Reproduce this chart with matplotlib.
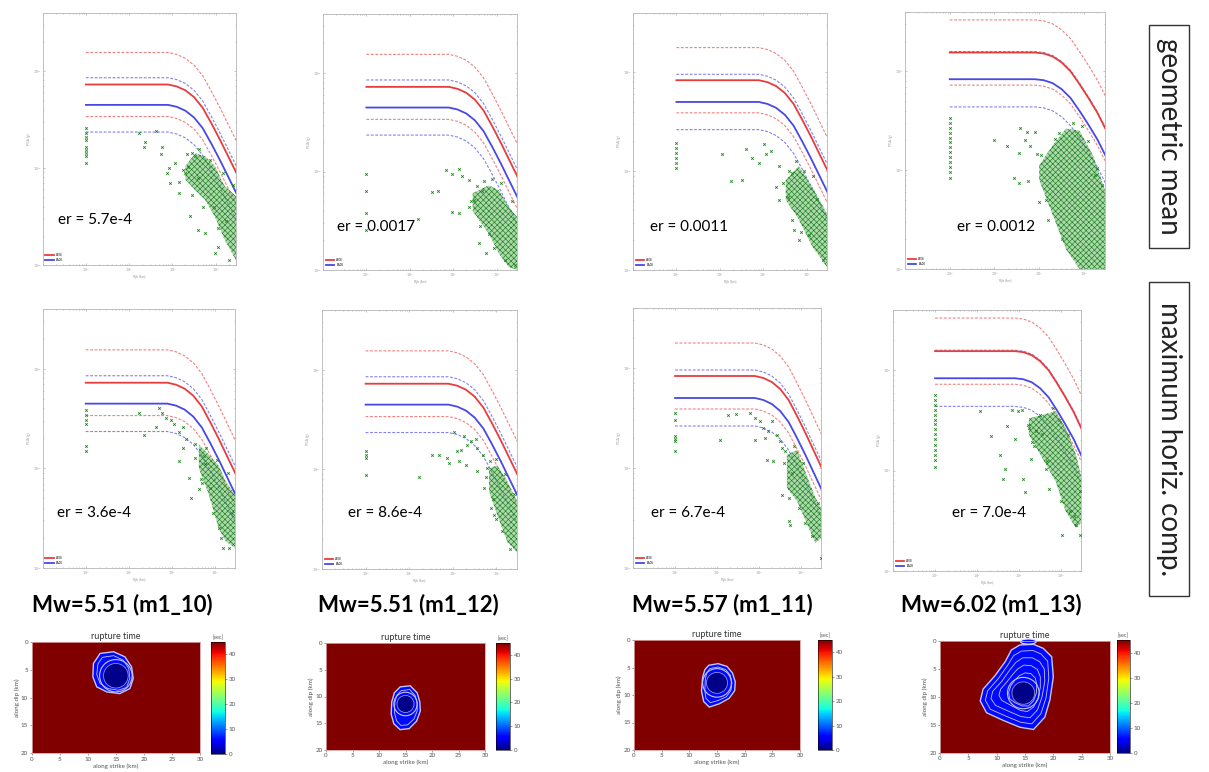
import numpy as np
import matplotlib.pyplot as plt
from matplotlib.patches import Polygon, Circle, Ellipse, Rectangle
from matplotlib.colors import Normalize
from matplotlib.cm import ScalarMappable
from matplotlib.ticker import FuncFormatter

plt.rcParams['font.family'] = ['Lato', 'DejaVu Sans']
plt.rcParams['hatch.linewidth'] = 0.45

W, H = 1209, 772

# ---- events ----
events = ['m1_10', 'm1_12', 'm1_11', 'm1_13']
magnitudes = [5.51, 5.51, 5.57, 6.02]
er_geo = ['5.7e-4', '0.0017', '0.0011', '0.0012']
er_max = ['3.6e-4', '8.6e-4', '6.7e-4', '7.0e-4']

# ---- GMPE medians (log10 PGA plateau) and +/- 1 sigma ----
red_level = [-1.14, -1.14, -1.08, -0.81]
blue_level = [-1.35, -1.35, -1.30, -1.08]
sigma_red = 0.33
sigma_blue = 0.28
# decay with distance, relative to the plateau (M5.5 events, M6 event)
curve_logr = [0.0, 1.9, 2.1, 2.3, 2.5, 2.7, 2.9, 3.1, 3.3, 3.5]
drop_m55 = [0.0, 0.0, -0.02, -0.06, -0.13, -0.24, -0.40, -0.57, -0.75, -0.93]
drop_m60 = [0.0, 0.0, -0.01, -0.04, -0.10, -0.19, -0.32, -0.46, -0.61, -0.79]
curve_drop = [drop_m55, drop_m55, drop_m55, drop_m60]

# ---- observed PGA (log10 r, log10 PGA) ----
# col: records at r = 1 km; px/py: scattered records; cx/lo/hi: envelope of the dense cloud
geo_10_col = [-1.59, -1.64, -1.68, -1.71, -1.78, -1.81, -1.85, -1.88, -1.95]
geo_10_px = [1.23, 1.61, 1.37, 1.34, 1.73, 1.76, 1.88, 1.92, 2.07, 2.15, 2.30, 2.37, 2.34, 2.45, 2.53, 2.41, 2.60, 2.76, 2.98, 3.06, 2.15, 1.95,
             2.25, 2.45, 2.62, 2.70, 2.88, 3.05, 3.18, 3.30, 3.40, 2.95, 3.25, 2.58]
geo_10_py = [-1.64, -1.62, -1.73, -1.78, -1.86, -1.78, -2.05, -2.00, -1.95, -2.14, -2.05, -1.99, -1.86, -1.85, -1.88, -2.50, -2.64, -2.67, -2.88, -2.81, -2.26, -2.16,
             -2.02, -2.28, -1.80, -2.40, -1.92, -2.62, -2.05, -2.95, -2.18, -2.40, -2.55, -2.10]
geo_10_cx = [2.30, 2.53, 2.76, 2.98, 3.21, 3.47]
geo_10_hi = [-1.98, -1.85, -1.88, -1.98, -2.19, -2.29]
geo_10_lo = [-2.12, -2.23, -2.33, -2.50, -2.74, -2.95]

geo_12_col = [-2.02, -2.20, -2.42, -2.59]
geo_12_px = [1.52, 1.64, 1.83, 1.98, 2.13, 2.21, 1.98, 2.13, 2.36, 2.48, 1.18, 2.59, 2.75, 2.82, 2.36, 2.67,
             2.40, 2.55, 2.70, 2.90, 3.10, 3.20, 3.35, 3.42, 2.95, 2.62]
geo_12_py = [-2.21, -2.20, -1.98, -2.02, -1.97, -2.05, -2.41, -2.42, -2.36, -2.29, -2.48, -2.73, -2.83, -2.63, -2.09, -2.20,
             -2.30, -2.15, -2.10, -2.08, -2.12, -2.90, -2.30, -2.95, -2.78, -2.55]
geo_12_cx = [2.45, 2.82, 3.05, 3.28, 3.47]
geo_12_hi = [-2.22, -2.14, -2.19, -2.36, -2.46]
geo_12_lo = [-2.40, -2.63, -2.83, -2.97, -3.00]

geo_11_col = [-1.72, -1.77, -1.82, -1.87, -1.92, -1.97]
geo_11_px = [1.06, 1.26, 1.51, 1.60, 2.02, 1.75, 1.91, 2.06, 2.17, 2.36, 2.29, 2.36, 2.56, 2.67, 2.67, 2.82,
             2.45, 2.60, 2.75, 2.95, 3.05, 3.25, 3.38, 2.88, 3.15, 2.70]
geo_11_py = [-1.83, -2.10, -2.09, -1.78, -1.73, -1.87, -1.92, -1.83, -1.80, -1.95, -2.16, -2.29, -2.26, -2.02, -2.49, -2.70,
             -2.12, -2.00, -1.90, -2.00, -2.65, -2.28, -2.90, -2.62, -2.05, -2.60]
geo_11_cx = [2.52, 2.82, 3.13, 3.47]
geo_11_hi = [-2.09, -1.95, -2.16, -2.43]
geo_11_lo = [-2.29, -2.49, -2.76, -2.97]

geo_13_col = [-1.47, -1.52, -1.57, -1.62, -1.67, -1.72, -1.77, -1.82, -1.87, -1.92, -1.97, -2.02, -2.08]
geo_13_px = [0.98, 1.28, 1.54, 1.57, 1.72, 1.91, 1.69, 1.80, 1.95, 1.43, 1.76, 1.54, 1.99,
             2.05, 2.15, 2.35, 2.50, 2.75, 2.95, 3.10, 3.30, 3.40, 2.45, 2.20, 3.25]
geo_13_py = [-1.69, -1.76, -1.83, -1.57, -1.61, -1.61, -1.69, -1.76, -1.84, -2.08, -2.11, -2.13, -2.32,
             -1.85, -2.30, -1.68, -2.70, -1.52, -1.55, -1.70, -1.98, -2.15, -1.62, -2.50, -2.05]
geo_13_cx = [2.00, 2.30, 2.60, 2.90, 3.20, 3.47]
geo_13_hi = [-1.95, -1.75, -1.58, -1.60, -1.85, -2.20]
geo_13_lo = [-2.10, -2.45, -2.80, -3.00, -3.00, -3.00]

max_10_col = [-1.41, -1.46, -1.51, -1.55, -1.78, -1.83]
max_10_px = [1.25, 1.36, 1.63, 1.71, 1.78, 1.86, 1.98, 2.05, 2.17, 2.25, 2.32, 2.17, 2.25, 2.40, 2.44, 2.63, 2.67, 2.75, 2.55, 2.78, 3.32, 3.09,
             2.55, 2.70, 2.80, 2.95, 3.05, 3.15, 3.30, 3.40, 2.90, 3.20]
max_10_py = [-1.44, -1.66, -1.58, -1.39, -1.44, -1.49, -1.51, -1.55, -1.63, -1.58, -1.70, -1.93, -1.80, -2.10, -2.30, -2.21, -2.11, -1.88, -1.76, -1.96, -2.80, -2.60,
             -1.90, -2.15, -1.80, -2.45, -1.92, -2.70, -2.05, -2.45, -2.20, -2.80]
max_10_cx = [2.63, 2.86, 3.09, 3.25, 3.47]
max_10_hi = [-1.76, -1.86, -1.97, -2.13, -2.26]
max_10_lo = [-2.00, -2.26, -2.60, -2.73, -2.80]

max_12_col = [-1.82, -1.86, -1.89, -2.06]
max_12_px = [1.22, 1.52, 1.68, 1.87, 1.91, 2.02, 2.10, 2.18, 2.25, 2.33, 2.14, 2.29, 2.41, 2.52, 2.56, 2.68, 2.72, 2.87, 2.95, 2.79, 2.56,
             2.75, 2.85, 2.92, 3.00, 3.12, 3.30, 3.40, 3.20, 2.98]
max_12_py = [-2.08, -1.86, -1.86, -1.89, -1.94, -1.62, -1.82, -1.81, -1.66, -1.76, -1.92, -1.96, -1.72, -1.69, -1.79, -1.86, -2.19, -2.39, -2.46, -1.99, -2.02,
             -2.08, -1.92, -2.30, -1.90, -2.62, -2.80, -2.25, -2.05, -2.50]
max_12_cx = [2.83, 3.02, 3.25, 3.47]
max_12_hi = [-1.99, -1.96, -2.12, -2.32]
max_12_lo = [-2.22, -2.46, -2.73, -2.83]

max_11_col = [-1.45, -1.52, -1.68, -1.71, -1.73, -1.83]
max_11_px = [1.06, 1.26, 1.46, 1.78, 1.90, 2.02, 2.10, 2.22, 2.30, 2.42, 1.90, 2.14, 2.18, 2.34, 2.50, 2.54, 2.62, 2.54, 2.70, 2.74, 3.46,
             2.60, 2.70, 2.82, 2.95, 3.05, 3.25, 3.40, 3.10, 2.78]
max_11_py = [-1.72, -1.47, -1.46, -1.45, -1.50, -1.53, -1.60, -1.63, -1.53, -1.67, -1.72, -1.70, -1.92, -1.93, -1.73, -1.80, -1.83, -2.27, -2.53, -2.57, -2.90,
             -1.95, -2.30, -1.78, -2.40, -1.95, -2.68, -2.35, -2.55, -2.05]
max_11_cx = [2.66, 2.90, 3.18, 3.34, 3.47]
max_11_hi = [-1.87, -1.82, -2.13, -2.30, -2.40]
max_11_lo = [-2.20, -2.33, -2.60, -2.75, -2.70]

max_13_col = [-1.25, -1.30, -1.35, -1.40, -1.45, -1.50, -1.54, -1.59, -1.64, -1.69, -1.74, -1.79, -1.84, -1.89, -1.96]
max_13_px = [1.06, 1.34, 1.54, 1.62, 1.66, 1.70, 1.82, 1.90, 1.98, 2.06, 2.10, 2.15, 2.27, 2.31, 2.23, 2.39, 2.55, 2.63, 2.71, 3.03, 3.35, 3.44,
             2.20, 2.35, 2.50, 2.65, 2.80, 3.00, 3.15, 3.30, 3.45, 2.95, 3.20]
max_13_py = [-1.41, -1.66, -1.84, -2.08, -1.98, -1.56, -1.40, -1.69, -1.41, -1.40, -2.08, -2.21, -1.88, -1.71, -1.58, -1.61, -1.64, -1.98, -2.18, -2.64, -2.54, -2.64,
             -1.55, -1.75, -1.45, -1.90, -1.38, -2.30, -1.65, -2.45, -2.20, -1.50, -2.40]
max_13_cx = [2.23, 2.87, 3.11, 3.35, 3.50]
max_13_hi = [-1.48, -1.41, -1.58, -1.84, -2.11]
max_13_lo = [-1.64, -2.11, -2.41, -2.57, -2.51]

# ---- rupture-time maps (km along strike, km along dip) ----
t_max = 45.0
t_front = 6.0
hypo = [(15.0, 6.1), (15.0, 11.4), (15.0, 7.8), (14.7, 9.3)]
core_r = [2.2, 1.6, 1.9, 2.0]
ring_r = [2.9, 2.2, 2.6, 2.8]

outline_10 = [(12.2, 2.1), (14.6, 1.8), (16.6, 2.7), (17.8, 4.5), (18.1, 6.6), (17.5, 8.4),
              (15.7, 9.3), (13.4, 9.0), (11.6, 8.1), (10.9, 6.3), (11.0, 3.9)]
iso_10 = [[(12.6, 2.8), (14.6, 2.5), (16.3, 3.3), (17.3, 4.8), (17.5, 6.6), (16.9, 8.2),
           (15.4, 8.7), (13.6, 8.4), (12.2, 7.5), (11.6, 5.9), (11.8, 4.0)]]

outline_12 = [(14.0, 8.2), (15.9, 8.0), (17.2, 9.3), (17.7, 11.0), (17.8, 12.7), (17.1, 14.6),
              (15.7, 16.0), (14.0, 16.2), (12.8, 15.1), (12.3, 13.3), (12.4, 11.0), (12.9, 9.3)]
iso_12 = [[(14.2, 8.9), (15.8, 8.7), (16.8, 9.8), (17.2, 11.2), (17.2, 12.7), (16.6, 14.2),
           (15.4, 15.3), (14.1, 15.4), (13.3, 14.5), (12.9, 12.9), (13.0, 11.0), (13.4, 9.7)]]

outline_11 = [(13.5, 4.6), (15.2, 4.3), (16.8, 4.8), (17.8, 6.0), (18.3, 7.6), (18.2, 9.2),
              (17.2, 10.6), (15.4, 11.6), (13.6, 12.2), (12.6, 11.2), (12.2, 9.3), (12.4, 6.8), (12.8, 5.4)]
iso_11 = [[(13.7, 5.2), (15.2, 4.9), (16.6, 5.4), (17.4, 6.4), (17.7, 7.8), (17.5, 9.2),
           (16.7, 10.3), (15.2, 11.0), (13.8, 11.4), (13.0, 10.6), (12.8, 9.2), (12.9, 7.0), (13.2, 5.9)]]

outline_13 = [(12.6, 1.6), (14.1, 0.7), (16.5, 0.6), (18.2, 1.3), (19.7, 2.8), (20.0, 6.4),
              (19.4, 10.5), (18.5, 13.6), (16.5, 15.8), (14.1, 15.4), (11.2, 14.2), (8.2, 12.8),
              (7.1, 10.7), (7.6, 8.6), (9.7, 6.2), (11.5, 3.7)]
iso_13 = [
    [(13.0, 2.6), (14.4, 1.8), (16.4, 1.7), (17.8, 2.3), (19.0, 3.6), (19.2, 6.6), (18.7, 10.2),
     (17.8, 13.0), (16.2, 14.8), (14.2, 14.5), (11.6, 13.4), (8.9, 12.2), (8.0, 10.6), (8.4, 8.9),
     (10.3, 6.7), (11.9, 4.4)],
    [(13.4, 3.8), (14.6, 3.0), (16.3, 3.0), (17.6, 3.7), (18.4, 5.0), (18.5, 7.2), (18.0, 10.0),
     (17.2, 12.3), (15.9, 13.7), (14.3, 13.5), (12.0, 12.5), (9.8, 11.5), (9.0, 10.3), (9.3, 9.0),
     (10.9, 7.2), (12.3, 5.2)],
    [(13.7, 5.0), (14.8, 4.3), (16.1, 4.4), (17.2, 5.1), (17.7, 6.4), (17.7, 8.3), (17.3, 10.2),
     (16.5, 11.8), (15.4, 12.6), (14.2, 12.4), (12.5, 11.5), (10.9, 10.6), (10.4, 9.7), (10.7, 8.6),
     (11.8, 7.3), (12.8, 6.0)],
    [(14.0, 6.2), (15.0, 5.7), (16.0, 5.8), (16.8, 6.6), (17.1, 7.8), (17.0, 9.3), (16.5, 10.7),
     (15.6, 11.6), (14.5, 11.6), (13.2, 11.0), (12.3, 10.3), (12.1, 9.2), (12.5, 8.0), (13.2, 7.0)],
]
patch_13 = (15.6, 0.1, 2.8, 0.9)  # small second patch at the top edge: x, z, width, height

# ---- layout (pixel boxes: left, top, right, bottom) ----
gmpe_top = [(42.7, 12.7, 236, 265), (323, 14, 517, 270), (633, 13, 827, 270), (905, 12, 1105, 269)]
gmpe_bot = [(42.7, 309, 235, 568), (322, 310, 517, 569), (633, 308, 821, 568), (893, 310, 1081, 571)]
er_top = [(58, 220), (337, 227), (650, 227), (957, 227)]
er_bot = [(57, 513), (348, 513), (651, 513), (952, 513)]
rup_ax = [(31.7, 641.7, 200, 753.3), (326, 643, 485, 750), (634, 640, 800, 750), (940, 641, 1110, 753)]
rup_cb = [(210.7, 641.7, 225, 754), (496, 643, 510, 750), (818, 640, 832, 750), (1116.7, 640, 1130, 753)]
title_x = [32, 318, 632, 901]

green = '#1a861a'
jet = plt.get_cmap('jet')
norm = Normalize(0, t_max)


def box(l, t, r, b):
    return [l / W, 1 - b / H, (r - l) / W, (b - t) / H]


def decade_label(v, pos):
    # the lowest distance label sits on the corner, under the lowest PGA label
    if v < 0.5:
        return ''
    return '$10^{%d}$' % int(round(np.log10(v)))


fig = plt.figure(figsize=(W / 100, H / 100), dpi=100)


def gmpe_panel(rect, k, col, px, py, cx, lo, hi):
    ax = fig.add_axes(box(*rect))
    r = 10 ** np.array(curve_logr)
    d = np.array(curve_drop[k])
    ax.plot(r, 10 ** (red_level[k] + d), color='#e83c3c', lw=1.3, label='AS08', zorder=3)
    ax.plot(r, 10 ** (blue_level[k] + d), color='#4848e6', lw=1.3, label='BA08', zorder=3)
    for s in (1, -1):
        ax.plot(r, 10 ** (red_level[k] + s * sigma_red + d), color='#f08080',
                lw=0.8, ls=(0, (2.5, 1.5)), zorder=2)
        ax.plot(r, 10 ** (blue_level[k] + s * sigma_blue + d), color='#8080f0',
                lw=0.8, ls=(0, (2.5, 1.5)), zorder=2)
    ax.fill_between(10 ** np.array(cx), 10 ** np.array(lo), 10 ** np.array(hi),
                    facecolor=(0.36, 0.70, 0.36, 0.5), edgecolor='#1c801c',
                    hatch='xxxxxx', lw=0, zorder=4)
    ax.plot(np.ones(len(col)), 10 ** np.array(col), 'x', color=green, ms=1.8, mew=0.6, zorder=5)
    ax.plot(10 ** np.array(px), 10 ** np.array(py), 'x', color=green, ms=1.8, mew=0.6, zorder=5)
    ax.set_xscale('log')
    ax.set_yscale('log')
    ax.set_xlim(0.1, 10 ** 3.47)
    ax.set_ylim(1e-3, 10 ** -0.4)
    ax.xaxis.set_major_formatter(FuncFormatter(decade_label))
    ax.tick_params(which='both', direction='in', top=True, right=True, labelsize=2.5,
                   colors='#999999', length=1.5, width=0.4, pad=1)
    ax.tick_params(which='minor', length=0.8)
    for sp in ax.spines.values():
        sp.set_color('#b5b5b5')
        sp.set_linewidth(0.6)
    ax.set_xlabel('Rjb (km)', fontsize=2.5, color='#999999', labelpad=1)
    ax.set_ylabel('PGA (g)', fontsize=2.5, color='#999999', labelpad=1)
    ax.legend(loc='lower left', fontsize=2, frameon=False, handlelength=3, borderaxespad=0.6)
    return ax


geo = [(geo_10_col, geo_10_px, geo_10_py, geo_10_cx, geo_10_lo, geo_10_hi),
       (geo_12_col, geo_12_px, geo_12_py, geo_12_cx, geo_12_lo, geo_12_hi),
       (geo_11_col, geo_11_px, geo_11_py, geo_11_cx, geo_11_lo, geo_11_hi),
       (geo_13_col, geo_13_px, geo_13_py, geo_13_cx, geo_13_lo, geo_13_hi)]
mxh = [(max_10_col, max_10_px, max_10_py, max_10_cx, max_10_lo, max_10_hi),
       (max_12_col, max_12_px, max_12_py, max_12_cx, max_12_lo, max_12_hi),
       (max_11_col, max_11_px, max_11_py, max_11_cx, max_11_lo, max_11_hi),
       (max_13_col, max_13_px, max_13_py, max_13_cx, max_13_lo, max_13_hi)]

for k in range(4):
    gmpe_panel(gmpe_top[k], k, *geo[k])
    gmpe_panel(gmpe_bot[k], k, *mxh[k])
    fig.text(er_top[k][0] / W, 1 - er_top[k][1] / H, 'er = ' + er_geo[k],
             fontsize=11, ha='left', va='center')
    fig.text(er_bot[k][0] / W, 1 - er_bot[k][1] / H, 'er = ' + er_max[k],
             fontsize=11, ha='left', va='center')
    fig.text(title_x[k] / W, 1 - 605 / H, 'Mw=%.2f (%s)' % (magnitudes[k], events[k]),
             fontsize=16, fontweight='bold', ha='left', va='center')

# ---- rupture-time maps ----
outlines = [outline_10, outline_12, outline_11, outline_13]
isos = [iso_10, iso_12, iso_11, iso_13]
iso_color = '#c4c4f2'

for k in range(4):
    ax = fig.add_axes(box(*rup_ax[k]))
    ax.set_facecolor(jet(norm(t_max)))
    ax.add_patch(Polygon(outlines[k], closed=True, fc=jet(norm(t_front)), ec=iso_color, lw=1.0))
    for poly in isos[k]:
        ax.add_patch(Polygon(poly, closed=True, fill=False, ec=iso_color, lw=0.6))
    ax.add_patch(Circle(hypo[k], ring_r[k], fill=False, ec=iso_color, lw=0.8))
    ax.add_patch(Circle(hypo[k], core_r[k], fc=jet(norm(0.5)), ec='#9090e0', lw=0.6))
    if k == 3:
        ax.add_patch(Ellipse(patch_13[:2], patch_13[2], patch_13[3], fc=jet(norm(t_front)),
                             ec='#e0e0ff', lw=0.8, clip_on=False))
    ax.set_xlim(0, 30)
    ax.set_ylim(20, 0)
    ax.set_xticks([0, 5, 10, 15, 20, 25, 30])
    ax.set_yticks([0, 5, 10, 15, 20])
    ax.tick_params(labelsize=4.5, length=1.5, width=0.4, pad=1, colors='#555555')
    for sp in ax.spines.values():
        sp.set_color('#d9a0a0')
        sp.set_linewidth(0.6)
    ax.set_title('rupture time', fontsize=6.5, pad=2, color='#333333')
    ax.set_xlabel('along strike (km)', fontsize=4.5, labelpad=1, color='#555555')
    ax.set_ylabel('along dip (km)', fontsize=4.5, labelpad=1, color='#555555')

    cax = fig.add_axes(box(*rup_cb[k]))
    cb = fig.colorbar(ScalarMappable(norm=norm, cmap=jet), cax=cax, ticks=[0, 10, 20, 30, 40])
    cb.outline.set_linewidth(0.4)
    cax.tick_params(labelsize=4.5, length=1.5, width=0.4, pad=1, colors='#555555')
    cax.set_title('[sec]', fontsize=4, pad=2, color='#555555')

# ---- row labels ----
for (t, b), label in [((25, 248), 'geometric mean'), ((282, 596), 'maximum horiz. comp.')]:
    fig.add_artist(Rectangle((1149 / W, 1 - b / H), 40 / W, (b - t) / H,
                             transform=fig.transFigure, fill=False, ec='#333333', lw=1))
    fig.text(1169 / W, 1 - (t + b) / 2 / H, label, rotation=270, fontsize=20,
             ha='center', va='center', color='#222222')

fig.savefig('out.png', dpi=100)
